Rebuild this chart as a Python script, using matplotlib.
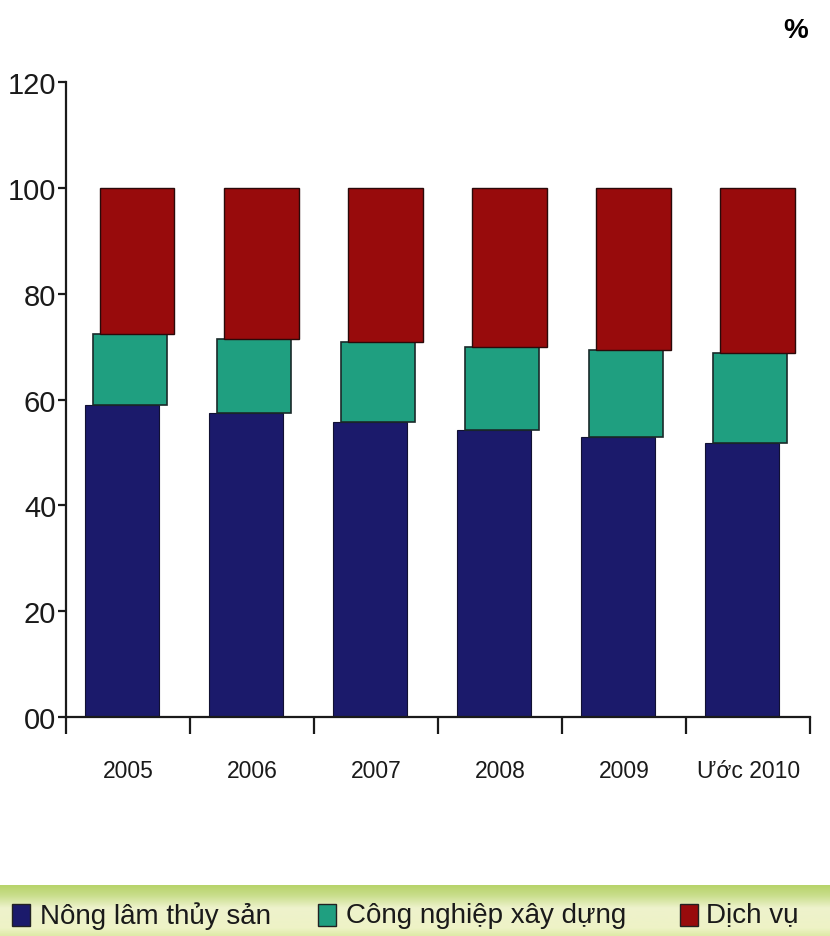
import numpy as np
import matplotlib.pyplot as plt
from matplotlib.patches import Rectangle
from matplotlib.colors import LinearSegmentedColormap

years = ["2005", "2006", "2007", "2008", "2009", "Ước 2010"]
nong_lam = [58.9, 57.4, 55.8, 54.3, 52.9, 51.7]
cong_nghiep = [13.4, 14.1, 15.0, 15.7, 16.4, 17.0]
dich_vu = [27.7, 28.5, 29.2, 30.0, 30.7, 31.3]
series_names = ["Nông lâm thủy sản", "Công nghiệp xây dựng", "Dịch vụ"]
y_ticks = [0, 20, 40, 60, 80, 100, 120]
y_tick_labels = ["00", "20", "40", "60", "80", "100", "120"]

navy = "#1b1a6b"
teal = "#1f9f80"
dark_red = "#980b0c"
sans = ["Liberation Sans", "DejaVu Sans"]

fig = plt.figure(figsize=(8.3, 9.37), dpi=100)
ax = fig.add_axes([0.0795, 0.2337, 0.8965, 0.6777])

x = np.arange(len(years))
w = 0.6
nl = np.array(nong_lam)
cn = np.array(cong_nghiep)
dv = np.array(dich_vu)
ax.bar(x - 0.05, nl, w, color=navy, edgecolor="#111133", linewidth=0.8)
ax.bar(x + 0.015, cn, w, bottom=nl, color=teal, edgecolor="#1a2a2a", linewidth=1.2)
ax.bar(x + 0.075, dv, w, bottom=nl + cn, color=dark_red, edgecolor="#2a0a0a", linewidth=1.0)

ax.set_xlim(-0.5, 5.5)
ax.set_ylim(0, 120)
for s in ["top", "right"]:
    ax.spines[s].set_visible(False)
for s in ["left", "bottom"]:
    ax.spines[s].set_linewidth(1.6)
    ax.spines[s].set_color("#1a1a1a")

ax.set_yticks(y_ticks)
ax.set_yticklabels(y_tick_labels, family=sans, fontsize=21, color="#1a1a1a")
ax.tick_params(axis="y", length=6, width=1.6, pad=1, color="#1a1a1a")

# year labels centred on bars, boundary ticks hanging below the axis
ax.set_xticks(x)
ax.set_xticklabels(years, family=sans, fontsize=16.5, color="#1a1a1a")
ax.tick_params(axis="x", which="major", length=0, pad=30)
ax.set_xticks(np.arange(-0.5, 6, 1), minor=True)
ax.tick_params(axis="x", which="minor", length=12, width=1.6, color="#1a1a1a")

fig.text(0.974, 0.967, "%", fontsize=20, fontweight="bold", ha="right",
         va="center", family=sans)

# legend strip along the bottom, greener at the top edge
band = fig.add_axes([0, 0, 1, 0.054])
grad = np.linspace(0, 1, 60)[:, None]
band_cmap = LinearSegmentedColormap.from_list(
    "band", [(0, "#b7d36a"), (0.2, "#c9de8c"), (0.45, "#eef2cc"),
             (0.85, "#eef3c6"), (1, "#dfeaa8")])
band.imshow(grad, aspect="auto", extent=[0, 1, 0, 1], cmap=band_cmap)
band.set_xlim(0, 1)
band.set_ylim(0, 1)
band.axis("off")

box_x = [12, 318, 680]
txt_x = [40, 346, 706]
colors = [navy, teal, dark_red]
for bx, tx, c, name in zip(box_x, txt_x, colors, series_names):
    fig.patches.append(Rectangle((bx / 830, 10 / 937), 18 / 830, 22 / 937,
                                 transform=fig.transFigure, facecolor=c,
                                 edgecolor="#222222", linewidth=1))
    fig.text(tx / 830, 21 / 937, name, fontsize=20, va="center", ha="left",
             family=sans, color="#1a1a1a")

fig.savefig("out.png", dpi=100)
